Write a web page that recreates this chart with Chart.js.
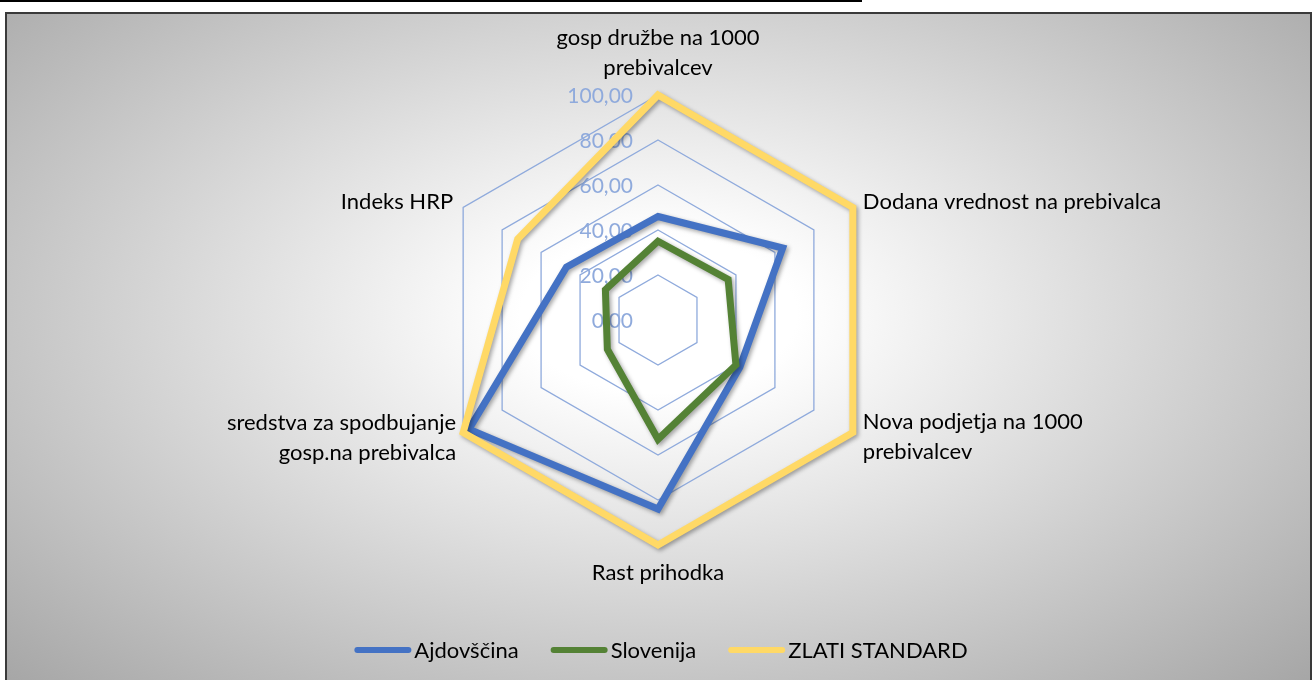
<!DOCTYPE html>
<html>
<head>
<meta charset="utf-8">
<script src="https://cdn.jsdelivr.net/npm/chart.js@4/dist/chart.umd.min.js"></script>
<style>
  html, body { margin: 0; padding: 0; background: #fff; }
  body { width: 1313px; height: 680px; position: relative; overflow: hidden; }
  #topline { position: absolute; left: 0; top: 0; width: 862px; height: 2px; background: #000; }
  #box {
    position: absolute; left: 5px; top: 12px; width: 1303px; height: 668px;
    border: 2px solid #3a3a3a; border-bottom: none;
    background: radial-gradient(ellipse farthest-corner at 50% 45%, #ffffff 15%, #a6a6a6 100%);
  }
  #c { position: absolute; left: 0; top: 0; }
</style>
</head>
<body>
<div id="topline"></div>
<div id="box"><canvas id="c" width="1303" height="666"></canvas></div>
<script>
const kategorije = [
  ['gosp družbe na 1000', 'prebivalcev'],
  ['Dodana vrednost na prebivalca'],
  ['Nova podjetja na 1000', 'prebivalcev'],
  ['Rast prihodka'],
  ['sredstva za spodbujanje', 'gosp.na prebivalca'],
  ['Indeks HRP']
];
const ajdovscina = [46, 64, 42, 84, 97, 47];
const slovenija = [35, 36, 40, 53, 26, 27];
const zlatiStandard = [100, 100, 100, 100, 100, 72];
const tickVrednosti = [0, 20, 40, 60, 80, 100];

const barve = { ajd: '#4472C4', slo: '#548235', zlati: '#FFD966', mreza: '#8FAADC' };
const pisava = 'Lato, "Open Sans", sans-serif';

// where each category label sits relative to its 100 % vertex
const labelPos = [
  { dx: 0, dy: -57, align: 'center' },
  { dx: 10, dy: -6, align: 'left' },
  { dx: 10, dy: -11, align: 'left' },
  { dx: 0, dy: 28, align: 'center' },
  { dx: -7, dy: -10, align: 'right' },
  { dx: -10, dy: -6, align: 'right' }
];

const senca = {
  id: 'senca',
  beforeDatasetDraw(chart) {
    const ctx = chart.ctx;
    ctx.save();
    ctx.shadowColor = 'rgba(0,0,0,0.35)';
    ctx.shadowBlur = 4;
    ctx.shadowOffsetX = 2;
    ctx.shadowOffsetY = 2;
  },
  afterDatasetDraw(chart) { chart.ctx.restore(); }
};

const napisi = {
  id: 'napisi',
  beforeDatasetsDraw(chart) {
    const ctx = chart.ctx;
    const s = chart.scales.r;
    ctx.save();
    ctx.font = '21px ' + pisava;
    ctx.fillStyle = barve.mreza;
    ctx.textAlign = 'right';
    ctx.textBaseline = 'middle';
    tickVrednosti.forEach(v => {
      const y = s.yCenter - s.getDistanceFromCenterForValue(v);
      ctx.fillText(v.toFixed(2).replace('.', ','), s.xCenter - 25, y + 1);
    });
    ctx.restore();
  },
  afterDraw(chart) {
    const ctx = chart.ctx;
    const s = chart.scales.r;
    ctx.save();
    ctx.font = '22px ' + pisava;
    ctx.fillStyle = '#000';
    ctx.textBaseline = 'middle';
    kategorije.forEach((lines, i) => {
      const p = s.getPointPosition(i, s.drawingArea);
      const lp = labelPos[i];
      ctx.textAlign = lp.align;
      lines.forEach((t, k) => ctx.fillText(t, p.x + lp.dx, p.y + lp.dy + k * 30));
    });

    // legend
    const items = chart.data.datasets.map(d => ({ text: d.label, color: d.borderColor }));
    const mw = 57, gap = 3, sep = 32;
    let total = 0;
    items.forEach((it, i) => { it.w = ctx.measureText(it.text).width; total += mw + gap + it.w + (i ? sep : 0); });
    let x = 661 - 7 - total / 2;
    const y = 636;
    ctx.textAlign = 'left';
    items.forEach(it => {
      ctx.strokeStyle = it.color;
      ctx.lineWidth = 6;
      ctx.lineCap = 'round';
      ctx.beginPath();
      ctx.moveTo(x + 3, y);
      ctx.lineTo(x + mw - 3, y);
      ctx.stroke();
      ctx.fillText(it.text, x + mw + gap, y + 1);
      x += mw + gap + it.w + sep;
    });
    ctx.restore();
  }
};

new Chart(document.getElementById('c'), {
  type: 'radar',
  data: {
    labels: kategorije,
    datasets: [
      { label: 'Ajdovščina', data: ajdovscina, borderColor: barve.ajd, order: 3 },
      { label: 'Slovenija', data: slovenija, borderColor: barve.slo, order: 2 },
      { label: 'ZLATI STANDARD', data: zlatiStandard, borderColor: barve.zlati, order: 1 }
    ]
  },
  options: {
    responsive: false,
    animation: false,
    layout: { padding: { top: 81, bottom: 135, left: 0, right: 0 } },
    elements: {
      line: { borderWidth: 7, fill: false, tension: 0, borderJoinStyle: 'miter' },
      point: { radius: 0, hoverRadius: 0 }
    },
    plugins: { legend: { display: false }, tooltip: { enabled: false } },
    scales: {
      r: {
        min: 0, max: 100,
        ticks: { stepSize: 20, display: false },
        grid: { color: barve.mreza, lineWidth: 1.3 },
        angleLines: { display: false },
        pointLabels: { display: false }
      }
    }
  },
  plugins: [senca, napisi]
});
</script>
</body>
</html>
